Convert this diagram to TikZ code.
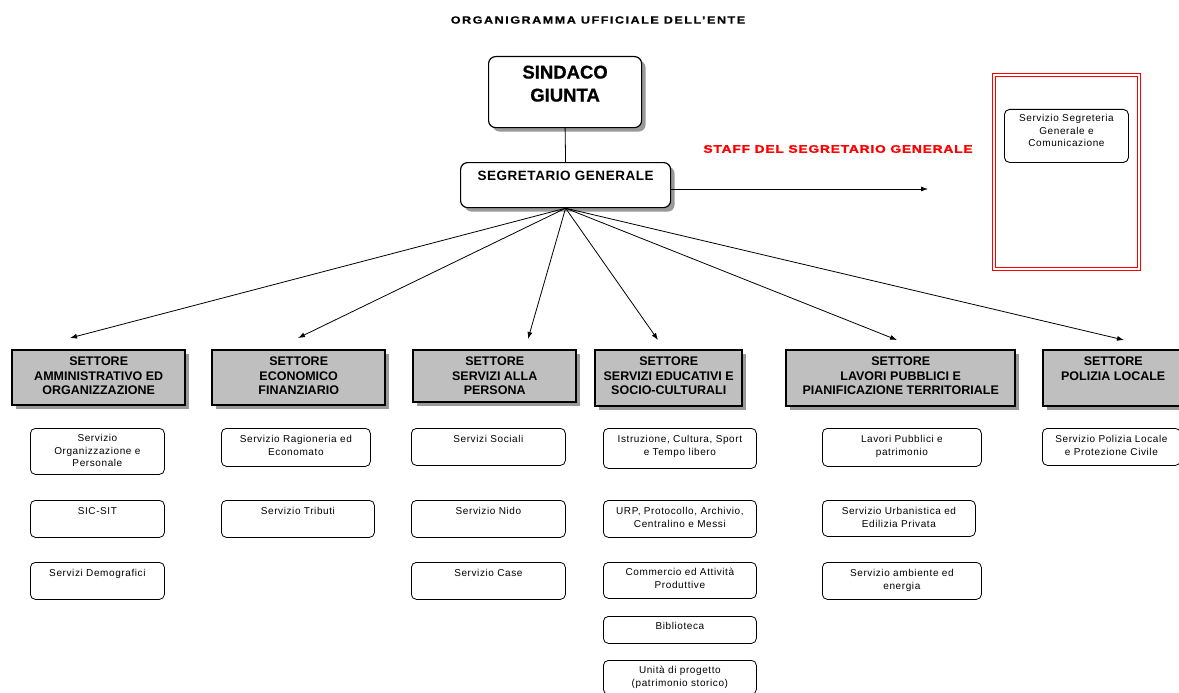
\documentclass[tikz,border=0pt]{standalone}
\usepackage{fontspec}
\setmainfont{Liberation Sans}
\usetikzlibrary{arrows.meta,shadows}
\newcommand{\tb}[3]{\parbox[c][#2][t]{#1}{\centering #3}}
\begin{document}
\begin{tikzpicture}[x=1pt,y=-1pt,
  svc/.style={draw, rounded corners=5pt, line width=0.8pt, inner sep=0pt, anchor=north west,
    font=\fontsize{10}{12.5}\selectfont\addfontfeatures{LetterSpace=6}},
  sec/.style={draw, line width=2.4pt, fill=black!25, inner sep=0pt, anchor=north west,
    drop shadow={shadow xshift=3.5pt, shadow yshift=-3.5pt, fill=black!40, opacity=1},
    font=\bfseries\fontsize{12.5}{14.5}\selectfont},
  top/.style={draw, rounded corners=7pt, line width=1.2pt, fill=white, inner sep=0pt, anchor=north west,
    drop shadow={shadow xshift=4pt, shadow yshift=-4pt, fill=black!40, opacity=1}},
  arr/.style={-{Latex[length=7pt,width=5pt]}, line width=0.8pt}
]
\useasboundingbox (0,0) rectangle (1179,693);
\clip (0,0) rectangle (1179,693);

% title
\node[font=\bfseries\fontsize{10.5}{12}\selectfont\addfontfeatures{LetterSpace=12,FakeBold=0.6}] (title) at (598,20)
  {\scalebox{1.2}[1]{ORGANIGRAMMA UFFICIALE DELL’ENTE}};

% top
\node[top] (sind) at (488,56) {\tb{153pt}{71pt}{\fontsize{18.5}{23}\selectfont\bfseries\addfontfeatures{FakeBold=0.8}\vspace{9pt}SINDACO\\GIUNTA}};
\node[top] (seg) at (460,162) {\tb{210pt}{45pt}{\fontsize{13.5}{16}\selectfont\bfseries\addfontfeatures{LetterSpace=4}\vspace{8pt}SEGRETARIO GENERALE}};
\draw[line width=0.8pt] (sind.south) -- (seg.north);

% staff
\node[text=red, font=\bfseries\fontsize{11}{13}\selectfont\addfontfeatures{LetterSpace=6,FakeBold=1.5}] (stafflbl) at (838,149)
  {\scalebox{1.25}[1]{STAFF DEL SEGRETARIO GENERALE}};
\node[draw=red, line width=1pt, minimum width=148pt, minimum height=197pt,
  inner sep=0pt, anchor=north west] (staffbox) at (992,73) {};
\draw[red, line width=1pt] ([shift={(3.5pt,-3.5pt)}]staffbox.north west) rectangle ([shift={(-3.5pt,3.5pt)}]staffbox.south east);
\node[svc, line width=0.9pt] (segcom) at (1004,109) {\tb{124pt}{53pt}{\vspace{5pt}Servizio Segreteria\\Generale e\\Comunicazione}};
\coordinate (staffend) at (928,189);
\draw[arr] (seg.east |- staffend) -- (staffend);

% sectors
\node[sec] (s1) at (11,349) {\tb{173pt}{55pt}{\vspace{7pt}SETTORE\\AMMINISTRATIVO ED\\ORGANIZZAZIONE}};
\node[sec] (s2) at (211,349) {\tb{173pt}{55pt}{\vspace{7pt}SETTORE\\ECONOMICO\\FINANZIARIO}};
\node[sec] (s3) at (412,349) {\tb{163pt}{52pt}{\vspace{7pt}SETTORE\\SERVIZI ALLA\\PERSONA}};
\node[sec] (s4) at (594,349) {\tb{147pt}{56pt}{\vspace{7pt}SETTORE\\SERVIZI EDUCATIVI E\\SOCIO-CULTURALI}};
\node[sec] (s5) at (785,349) {\tb{229pt}{56pt}{\vspace{7pt}SETTORE\\LAVORI PUBBLICI E\\PIANIFICAZIONE TERRITORIALE}};
\node[sec] (s6) at (1042,349) {\tb{140pt}{56pt}{\vspace{7pt}SETTORE\\POLIZIA LOCALE}};

\coordinate (t1) at (70,338);
\coordinate (t2) at (298,338);
\coordinate (t3) at (528,339);
\coordinate (t4) at (658,340);
\coordinate (t5) at (897,340);
\coordinate (t6) at (1124,340);
\foreach \t in {t1,t2,t3,t4,t5,t6} \draw[arr] (seg.south) -- (\t);

% services col 1
\node[svc] (a1) at (30,428) {\tb{134pt}{46pt}{\vspace{6pt}Servizio\\Organizzazione e\\Personale}};
\node[svc] (a2) at (30,500) {\tb{134pt}{37pt}{\vspace{7pt}SIC-SIT}};
\node[svc] (a3) at (30,562) {\tb{134pt}{37pt}{\vspace{7pt}Servizi Demografici}};
% col 2
\node[svc] (b1) at (221,428) {\tb{149pt}{38pt}{\vspace{7pt}Servizio Ragioneria ed\\Economato}};
\node[svc] (b2) at (221,500) {\tb{153pt}{37pt}{\vspace{7pt}Servizio Tributi}};
% col 3
\node[svc] (c1) at (411,428) {\tb{154pt}{37pt}{\vspace{7pt}Servizi Sociali}};
\node[svc] (c2) at (411,500) {\tb{154pt}{37pt}{\vspace{7pt}Servizio Nido}};
\node[svc] (c3) at (411,562) {\tb{154pt}{37pt}{\vspace{7pt}Servizio Case}};
% col 4
\node[svc] (d1) at (603,428) {\tb{153pt}{40pt}{\vspace{7pt}Istruzione, Cultura, Sport\\e Tempo libero}};
\node[svc] (d2) at (603,500) {\tb{153pt}{37pt}{\vspace{7pt}URP, Protocollo, Archivio,\\Centralino e Messi}};
\node[svc] (d3) at (603,562) {\tb{153pt}{36pt}{\vspace{6pt}Commercio ed Attività\\Produttive}};
\node[svc] (d4) at (603,616) {\tb{153pt}{27pt}{\vspace{6pt}Biblioteca}};
\node[svc] (d5) at (603,660) {\tb{153pt}{34pt}{\vspace{6pt}Unità di progetto\\(patrimonio storico)}};
% col 5
\node[svc] (e1) at (822,428) {\tb{159pt}{38pt}{\vspace{7pt}Lavori Pubblici e\\patrimonio}};
\node[svc] (e2) at (822,500) {\tb{153pt}{36pt}{\vspace{7pt}Servizio Urbanistica ed\\Edilizia Privata}};
\node[svc] (e3) at (822,562) {\tb{159pt}{37pt}{\vspace{7pt}Servizio ambiente ed\\energia}};
% col 6
\node[svc] (f1) at (1042,428) {\tb{138pt}{37pt}{\vspace{7pt}Servizio Polizia Locale\\e Protezione Civile}};
\end{tikzpicture}
\end{document}
